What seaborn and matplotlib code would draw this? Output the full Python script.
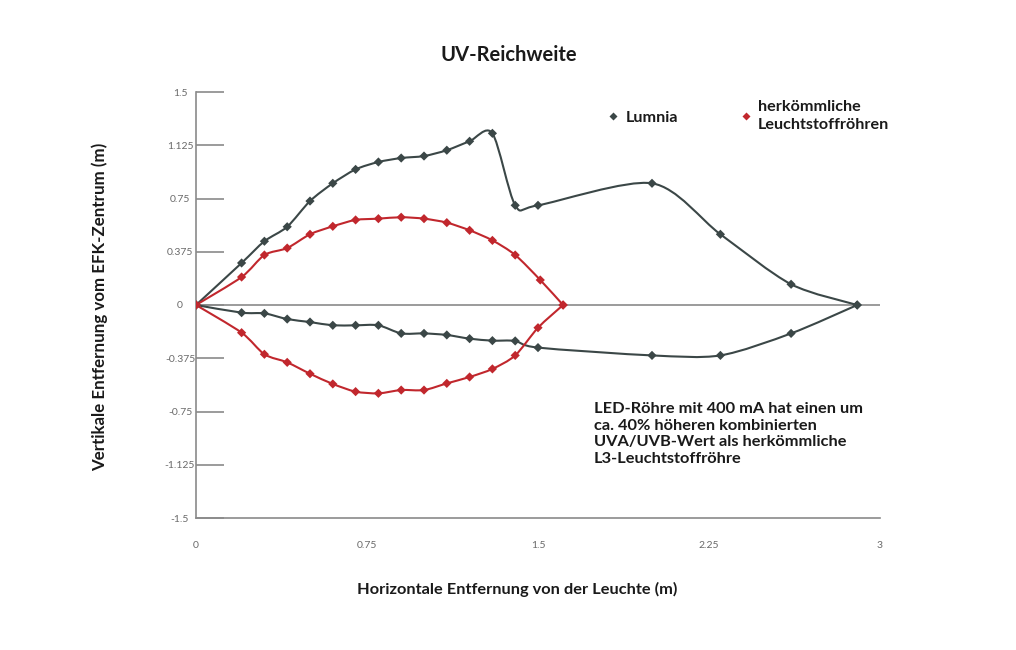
import numpy as np
import matplotlib
matplotlib.use("Agg")
import matplotlib.pyplot as plt
from matplotlib.path import Path
from matplotlib.patches import PathPatch
from matplotlib.lines import Line2D
import seaborn as sns
import pandas as pd

# ---- data ----
lumnia_top_x = [0, 0.2, 0.3, 0.4, 0.5, 0.6, 0.7, 0.8, 0.9, 1.0, 1.1, 1.2, 1.3, 1.4, 1.5, 2.0, 2.3, 2.61, 2.9]
lumnia_top_y = [0, 0.296, 0.449, 0.551, 0.732, 0.857, 0.955, 1.007, 1.035, 1.049, 1.09, 1.153, 1.209, 0.702, 0.702, 0.857, 0.498, 0.146, 0]
lumnia_bot_x = [0, 0.2, 0.3, 0.4, 0.5, 0.6, 0.7, 0.8, 0.9, 1.0, 1.1, 1.2, 1.3, 1.4, 1.5, 2.0, 2.3, 2.61, 2.9]
lumnia_bot_y = [0, -0.054, -0.059, -0.099, -0.12, -0.143, -0.143, -0.143, -0.2, -0.2, -0.211, -0.237, -0.251, -0.253, -0.3, -0.355, -0.355, -0.2, 0]

herk_top_x = [0, 0.2, 0.3, 0.4, 0.5, 0.6, 0.7, 0.8, 0.9, 1.0, 1.1, 1.2, 1.3, 1.4, 1.51, 1.61]
herk_top_y = [0, 0.197, 0.352, 0.401, 0.498, 0.554, 0.599, 0.608, 0.618, 0.608, 0.58, 0.526, 0.455, 0.352, 0.176, 0]
herk_bot_x = [0, 0.2, 0.3, 0.4, 0.5, 0.6, 0.7, 0.8, 0.9, 1.0, 1.1, 1.2, 1.3, 1.4, 1.5, 1.61]
herk_bot_y = [0, -0.195, -0.347, -0.404, -0.484, -0.556, -0.61, -0.622, -0.599, -0.599, -0.552, -0.507, -0.45, -0.355, -0.16, 0]

x_ticks = [0, 0.75, 1.5, 2.25, 3]
x_tick_labels = ["0", "0.75", "1.5", "2.25", "3"]
y_ticks = [-1.5, -1.125, -0.75, -0.375, 0, 0.375, 0.75, 1.125, 1.5]
y_tick_labels = ["-1.5", "-1.125", "-0.75", "-0.375", "0", "0.375", "0.75", "1.125", "1.5"]

series_names = ["Lumnia", "herkömmliche\nLeuchtstoffröhren"]
title = "UV-Reichweite"
xlabel = "Horizontale Entfernung von der Leuchte (m)"
ylabel = "Vertikale Entfernung vom EFK-Zentrum (m)"
note = ("LED-Röhre mit 400 mA hat einen um\nca. 40% höheren kombinierten\n"
        "UVA/UVB-Wert als herkömmliche\nL3-Leuchtstoffröhre")

GRAY = "#3b4747"
RED = "#c1272d"
AXC = "#8a8a8a"

sns.set_theme(style="white")
plt.rcParams['font.family'] = ['Lato', 'DejaVu Sans']

fig = plt.figure(figsize=(10.16, 6.5), dpi=100)
ax = fig.add_axes([196/1016, 1-518/650, (880-196)/1016, (518-92)/650])


def smooth_path(xs, ys, tension=0.14):
    """Excel-like smoothed Bezier path through the given points."""
    x = np.asarray(xs, float); y = np.asarray(ys, float)
    n = len(x)
    verts = [(x[0], y[0])]
    codes = [Path.MOVETO]
    for i in range(n - 1):
        p0 = np.array([x[max(i-1, 0)], y[max(i-1, 0)]])
        p1 = np.array([x[i], y[i]])
        p2 = np.array([x[i+1], y[i+1]])
        p3 = np.array([x[min(i+2, n-1)], y[min(i+2, n-1)]])
        c1 = p1 + (p2 - p0) * tension
        c2 = p2 - (p3 - p1) * tension
        verts += [tuple(c1), tuple(c2), tuple(p2)]
        codes += [Path.CURVE4] * 3
    return Path(verts, codes)


for xs, ys, col in [(lumnia_top_x, lumnia_top_y, GRAY), (lumnia_bot_x, lumnia_bot_y, GRAY),
                    (herk_top_x, herk_top_y, RED), (herk_bot_x, herk_bot_y, RED)]:
    ax.add_patch(PathPatch(smooth_path(xs, ys), fill=False, edgecolor=col, lw=1.5,
                           zorder=3, capstyle='round', joinstyle='round'))

df = pd.concat([
    pd.DataFrame({"x": lumnia_top_x + lumnia_bot_x, "y": lumnia_top_y + lumnia_bot_y, "s": series_names[0]}),
    pd.DataFrame({"x": herk_top_x + herk_bot_x, "y": herk_top_y + herk_bot_y, "s": series_names[1]}),
])
sns.scatterplot(data=df, x="x", y="y", hue="s", palette=[GRAY, RED], marker="D",
                s=22, edgecolor="none", legend=False, ax=ax, zorder=4)

ax.axhline(0, color=AXC, lw=1.2, zorder=1)

ax.set_xlim(0, 3.0)
ax.set_ylim(-1.5, 1.5)
ax.set_xticks(x_ticks)
ax.set_xticklabels(x_tick_labels)
ax.set_yticks(y_ticks)
ax.set_yticklabels(y_tick_labels, ha="center")
ax.set_xticks([3.0], minor=True)
ax.tick_params(axis='y', direction='in', length=20, width=1.2, color=AXC, labelsize=7.5,
               labelcolor="#6a6a6a", pad=11.5, left=True)
ax.tick_params(axis='x', which='major', length=0, labelsize=7.5, labelcolor="#6a6a6a", pad=16.5)
ax.tick_params(axis='x', which='minor', direction='in', length=10, width=1.2, color=AXC, bottom=True)
for sp in ["top", "right"]:
    ax.spines[sp].set_visible(False)
for sp in ["left", "bottom"]:
    ax.spines[sp].set_color(AXC)
    ax.spines[sp].set_linewidth(1.2)
ax.set_xlabel("")
ax.set_ylabel("")

fig.text(509/1016, 1-55/650, title, ha="center", va="center", fontsize=14.5, fontweight="bold", color="#1a1a1a")
fig.text(517/1016, 1-589/650, xlabel, ha="center", va="center", fontsize=11.8, fontweight="bold", color="#1a1a1a")
fig.text(100/1016, 1-307/650, ylabel, ha="center", va="center", rotation=90, fontsize=12.2,
         fontweight="bold", color="#1a1a1a")
fig.text(594/1016, 1-434/650, note, ha="left", va="center", fontsize=11.8, fontweight="bold",
         color="#1a1a1a", linespacing=1.22)

handles = [Line2D([], [], ls="none", marker="D", ms=4.5, color=GRAY, markeredgecolor="none"),
           Line2D([], [], ls="none", marker="D", ms=4.5, color=RED, markeredgecolor="none")]
leg = fig.legend(handles, series_names, loc="center left", bbox_to_anchor=(594/1016, 1-116/650),
                 ncol=2, frameon=False, handlelength=0.6, handletextpad=0.45, columnspacing=3.9,
                 prop={"family": "Lato", "weight": "bold", "size": 11.6})
for t in leg.get_texts():
    t.set_color("#1a1a1a")
    t.set_linespacing(1.45)

fig.savefig("out.png", dpi=100, facecolor="white")
